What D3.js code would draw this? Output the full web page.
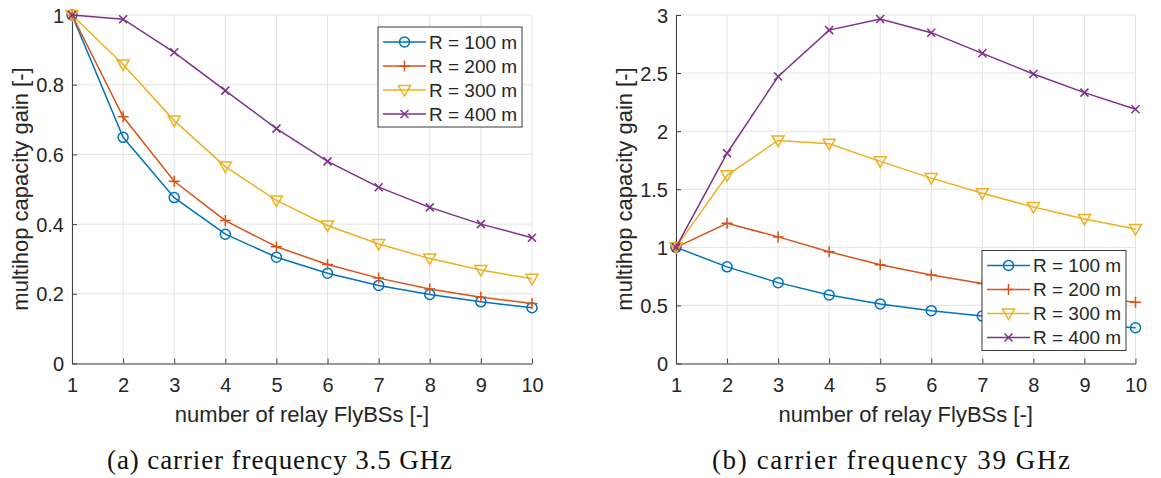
<!DOCTYPE html>
<html>
<head>
<meta charset="utf-8">
<script src="https://cdn.jsdelivr.net/npm/d3@7"></script>
<style>
  body { margin: 0; background: #fff; }
  svg text { font-family: "Liberation Sans", Arial, sans-serif; fill: #262626; }
  .caption { font-family: "Liberation Serif", "Times New Roman", serif; fill: #111; }
</style>
</head>
<body>
<svg id="chart" width="1161" height="478"></svg>
<script>
// x values: number of relay FlyBSs
const relays = [1, 2, 3, 4, 5, 6, 7, 8, 9, 10];
const seriesNames = ['R = 100 m', 'R = 200 m', 'R = 300 m', 'R = 400 m'];

// (a) 3.5 GHz
const gain35R100 = [1, 0.649, 0.476, 0.371, 0.305, 0.259, 0.224, 0.198, 0.177, 0.160];
const gain35R200 = [1, 0.708, 0.523, 0.410, 0.335, 0.284, 0.245, 0.214, 0.190, 0.172];
const gain35R300 = [1, 0.858, 0.697, 0.565, 0.468, 0.396, 0.343, 0.301, 0.268, 0.243];
const gain35R400 = [1, 0.988, 0.893, 0.783, 0.674, 0.580, 0.506, 0.448, 0.400, 0.361];

// (b) 39 GHz
const gain39R100 = [1, 0.832, 0.696, 0.590, 0.513, 0.455, 0.408, 0.368, 0.335, 0.308];
const gain39R200 = [1, 1.207, 1.090, 0.962, 0.850, 0.762, 0.688, 0.628, 0.575, 0.528];
const gain39R300 = [1, 1.620, 1.920, 1.892, 1.740, 1.596, 1.466, 1.347, 1.244, 1.157];
const gain39R400 = [1, 1.810, 2.470, 2.870, 2.966, 2.848, 2.670, 2.492, 2.332, 2.188];

const yTicksA = [0, 0.2, 0.4, 0.6, 0.8, 1];
const yTicksB = [0, 0.5, 1, 1.5, 2, 2.5, 3];

const colors = ['#0072BD', '#D95319', '#EDB120', '#7E2F8E'];
const markers = ['circle', 'plus', 'tridown', 'cross'];

const svg = d3.select('#chart');

function markerPath(type) {
    const p = d3.path();
    if (type === 'circle') {
        p.arc(0, 0, 5, 0, 2 * Math.PI);
    } else if (type === 'plus') {
        p.moveTo(-5.5, 0); p.lineTo(5.5, 0);
        p.moveTo(0, -5.5); p.lineTo(0, 5.5);
    } else if (type === 'tridown') {
        p.moveTo(-6, -4.5); p.lineTo(6, -4.5); p.lineTo(0, 6); p.closePath();
    } else {
        p.moveTo(-4, -4); p.lineTo(4, 4);
        p.moveTo(-4, 4); p.lineTo(4, -4);
    }
    return p.toString();
}

function drawPanel(opts) {
    const x = d3.scaleLinear().domain([1, 10]).range([opts.left, opts.right]);
    const y = d3.scaleLinear().domain(opts.yDomain).range([363.5, 15]);
    const g = svg.append('g');

    // grid
    g.append('g').selectAll('line').data(relays).enter().append('line')
        .attr('x1', d => x(d)).attr('x2', d => x(d))
        .attr('y1', y.range()[0]).attr('y2', y.range()[1])
        .attr('stroke', '#e3e3e3').attr('stroke-width', 1);
    g.append('g').selectAll('line').data(opts.yTicks).enter().append('line')
        .attr('x1', opts.left).attr('x2', opts.right)
        .attr('y1', d => y(d)).attr('y2', d => y(d))
        .attr('stroke', '#e3e3e3').attr('stroke-width', 1);

    // axes (ticks point inward)
    const xAxis = g.append('g').attr('transform', `translate(0,${y.range()[0]})`)
        .call(d3.axisBottom(x).tickValues(relays).tickSizeInner(-5).tickSizeOuter(0).tickPadding(10));
    const yAxis = g.append('g').attr('transform', `translate(${opts.left},0)`)
        .call(d3.axisLeft(y).tickValues(opts.yTicks).tickFormat(d => String(d))
            .tickSizeInner(-5).tickSizeOuter(0).tickPadding(8));
    [xAxis, yAxis].forEach(a => {
        a.select('.domain').attr('stroke', '#404040').attr('stroke-width', 1);
        a.selectAll('.tick line').attr('stroke', '#404040');
        a.selectAll('.tick text').attr('font-size', 20).attr('fill', '#262626')
            .style('font-family', '"Liberation Sans", Arial, sans-serif');
    });
    xAxis.selectAll('.tick text').attr('dy', '0.71em').attr('y', 14);
    yAxis.selectAll('.tick text').attr('dy', '0.35em').attr('x', -8);

    // labels
    g.append('text')
        .attr('x', (opts.left + opts.right) / 2).attr('y', 421.5)
        .attr('text-anchor', 'middle').attr('font-size', 22)
        .text('number of relay FlyBSs [-]');
    g.append('text')
        .attr('transform', `translate(${opts.left - 44},189) rotate(-90)`)
        .attr('text-anchor', 'middle').attr('font-size', 22)
        .text('multihop capacity gain [-]');
    g.append('text').attr('class', 'caption')
        .attr('x', opts.captionX).attr('y', 469)
        .attr('font-size', 27)
        .attr('textLength', opts.captionW).attr('lengthAdjust', 'spacing')
        .text(opts.caption);

    // series
    const line = d3.line().x((d, i) => x(relays[i])).y(d => y(d));
    opts.series.forEach((vals, s) => {
        const sg = g.append('g');
        sg.append('path').datum(vals)
            .attr('d', line).attr('fill', 'none')
            .attr('stroke', colors[s]).attr('stroke-width', 1.5);
        sg.selectAll('path.m').data(vals).enter().append('path')
            .attr('class', 'm')
            .attr('transform', (d, i) => `translate(${x(relays[i])},${y(d)})`)
            .attr('d', markerPath(markers[s]))
            .attr('fill', 'none').attr('stroke', colors[s]).attr('stroke-width', 1.5);
    });

    // legend
    const lg = g.append('g').attr('transform', `translate(${opts.legend[0]},${opts.legend[1]})`);
    lg.append('rect').attr('width', 144).attr('height', 100)
        .attr('fill', '#fff').attr('stroke', '#3a3a3a').attr('stroke-width', 1);
    seriesNames.forEach((name, s) => {
        const row = lg.append('g').attr('transform', `translate(0,${15 + s * 24})`);
        row.append('line').attr('x1', 5).attr('x2', 48)
            .attr('stroke', colors[s]).attr('stroke-width', 1.5);
        row.append('path').attr('transform', 'translate(26.5,0)')
            .attr('d', markerPath(markers[s]))
            .attr('fill', 'none').attr('stroke', colors[s]).attr('stroke-width', 1.5);
        row.append('text').attr('x', 51).attr('dy', '0.35em')
            .attr('font-size', 19).text(name);
    });
}

drawPanel({
    left: 72, right: 532, yDomain: [0, 1], yTicks: yTicksA,
    series: [gain35R100, gain35R200, gain35R300, gain35R400],
    legend: [378, 27], caption: '(a) carrier frequency 3.5 GHz', captionX: 107, captionW: 345
});
drawPanel({
    left: 676, right: 1135.5, yDomain: [0, 3], yTicks: yTicksB,
    series: [gain39R100, gain39R200, gain39R300, gain39R400],
    legend: [982, 250.5], caption: '(b) carrier frequency 39 GHz', captionX: 712, captionW: 358
});
</script>
</body>
</html>
